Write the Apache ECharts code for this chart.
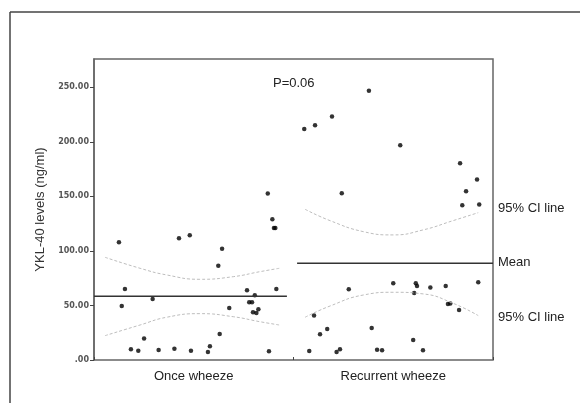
<!DOCTYPE html>
<html>
<head>
<meta charset="utf-8">
<script src="https://cdn.jsdelivr.net/npm/echarts@6/dist/echarts.min.js"></script>
<style>
  html, body { margin: 0; padding: 0; background: #fff; }
  #ykl-chart { width: 580px; height: 403px; }
</style>
</head>
<body>
<div id="ykl-chart"></div>
<script>
// group labels and y ticks
const groups = ['Once wheeze', 'Recurrent wheeze'];
const yTicks = [0, 50, 100, 150, 200, 250];

// x spans 0..2, each group takes one unit
const onceWheeze = [
  [0.125, 108], [0.155, 65], [0.139, 49.5], [0.185, 9.8], [0.222, 8.5],
  [0.251, 19.6], [0.294, 56], [0.324, 9.2], [0.403, 10.4], [0.426, 111.6],
  [0.480, 114.4], [0.486, 8.5], [0.571, 7.3], [0.581, 12.5], [0.623, 86.5],
  [0.642, 102], [0.630, 23.8], [0.678, 47.7], [0.767, 64], [0.778, 53],
  [0.792, 53], [0.806, 59.3], [0.797, 43.7], [0.814, 43.1], [0.824, 46.5],
  [0.871, 152.6], [0.877, 8], [0.894, 129], [0.902, 121], [0.909, 121],
  [0.914, 65]
];
const recurrentWheeze = [
  [1.054, 211.9], [1.079, 8.3], [1.103, 40.7], [1.108, 215.3], [1.133, 23.5],
  [1.169, 28.4], [1.193, 223.2], [1.216, 7.3], [1.233, 9.8], [1.242, 152.9],
  [1.277, 64.8], [1.378, 246.8], [1.392, 29.4], [1.419, 9.5], [1.444, 8.9],
  [1.500, 70.3], [1.535, 197], [1.600, 18.3], [1.605, 61.5], [1.613, 70.3],
  [1.619, 67.9], [1.649, 8.9], [1.686, 66.4], [1.763, 67.9], [1.774, 51.4],
  [1.786, 51.7], [1.830, 45.9], [1.835, 180.4], [1.846, 141.9], [1.865, 154.8],
  [1.920, 165.4], [1.926, 71.3], [1.931, 142.5]
];

// group means
const meanOnce = [[0, 58.4], [0.967, 58.4]];
const meanRecurrent = [[1.018, 88.7], [2, 88.7]];

// 95% CI curves
const ciOnceUpper = [[0.055, 94.2], [0.231, 84.1], [0.364, 78], [0.531, 74], [0.698, 76.4], [0.832, 81], [0.929, 84.1]];
const ciOnceLower = [[0.055, 22.3], [0.231, 32.1], [0.364, 39.2], [0.531, 42.5], [0.698, 39.7], [0.832, 35.1], [0.929, 32.1]];
const ciRecUpper = [[1.058, 138.2], [1.183, 127.8], [1.35, 117.7], [1.5, 114.7], [1.65, 119.3], [1.80, 127.8], [1.926, 135.1]];
const ciRecLower = [[1.058, 39.2], [1.183, 49.5], [1.35, 59.6], [1.5, 62.1], [1.65, 60.6], [1.80, 52], [1.926, 40.7]];

const ciLine = (data) => ({
  type: 'line',
  data: data,
  smooth: true,
  symbol: 'none',
  silent: true,
  lineStyle: { color: '#bdbdbd', width: 1, type: [3, 2] }
});

const meanLine = (data) => ({
  type: 'line',
  data: data,
  symbol: 'none',
  silent: true,
  lineStyle: { color: '#333', width: 1.5 }
});

const dots = (data) => ({
  type: 'scatter',
  data: data,
  symbolSize: 4.5,
  itemStyle: { color: '#000' }
});

const options = {
  animation: false,
  grid: {
    left: 94, top: 59, right: 87, bottom: 43,
    show: true,
    borderColor: '#666',
    borderWidth: 1.5
  },
  xAxis: [
    {
      type: 'value',
      min: 0, max: 2, interval: 1,
      axisLine: { show: false },
      splitLine: { show: false },
      axisLabel: { show: false },
      axisTick: { inside: true, length: 3, lineStyle: { color: '#444' } }
    },
    {
      type: 'category',
      data: groups,
      position: 'bottom',
      axisLine: { show: false },
      axisTick: { show: false },
      axisLabel: { color: '#222', fontSize: 13, fontFamily: 'Liberation Sans', margin: 10 }
    }
  ],
  yAxis: {
    type: 'value',
    min: 0, max: 276, interval: 50,
    name: 'YKL-40 levels (ng/ml)',
    nameLocation: 'middle',
    nameGap: 33,
    nameTextStyle: { color: '#333', fontSize: 13, fontFamily: 'Liberation Sans' },
    axisLine: { show: true, lineStyle: { color: '#666', width: 1.5 } },
    axisTick: { show: true, length: 4, customValues: yTicks, lineStyle: { color: '#444' } },
    splitLine: { show: false },
    axisLabel: {
      color: '#555', fontSize: 8, fontWeight: 'bold', fontFamily: 'DejaVu Sans', margin: 5,
      customValues: yTicks,
      formatter: (v) => v === 0 ? '.00' : v.toFixed(2)
    }
  },
  series: [
    ciLine(ciOnceUpper), ciLine(ciOnceLower),
    ciLine(ciRecUpper), ciLine(ciRecLower),
    meanLine(meanOnce), meanLine(meanRecurrent),
    dots(onceWheeze), dots(recurrentWheeze)
  ],
  graphic: [
    { type: 'line', shape: { x1: 10, y1: 12, x2: 580, y2: 12 }, style: { stroke: '#444', lineWidth: 1.5 } },
    { type: 'line', shape: { x1: 10, y1: 12, x2: 10, y2: 403 }, style: { stroke: '#444', lineWidth: 1.5 } },
    { type: 'text', left: 273, top: 77, style: { text: 'P=0.06', fill: '#222', font: '13px "Liberation Sans"' } },
    { type: 'text', left: 498, top: 202, style: { text: '95% CI line', fill: '#222', font: '13px "Liberation Sans"' } },
    { type: 'text', left: 498, top: 256, style: { text: 'Mean', fill: '#222', font: '13px "Liberation Sans"' } },
    { type: 'text', left: 498, top: 311, style: { text: '95% CI line', fill: '#222', font: '13px "Liberation Sans"' } }
  ]
};

const chart = echarts.init(document.getElementById('ykl-chart'));
chart.setOption(options);
window.addEventListener('resize', () => chart.resize(), false);
</script>
</body>
</html>
